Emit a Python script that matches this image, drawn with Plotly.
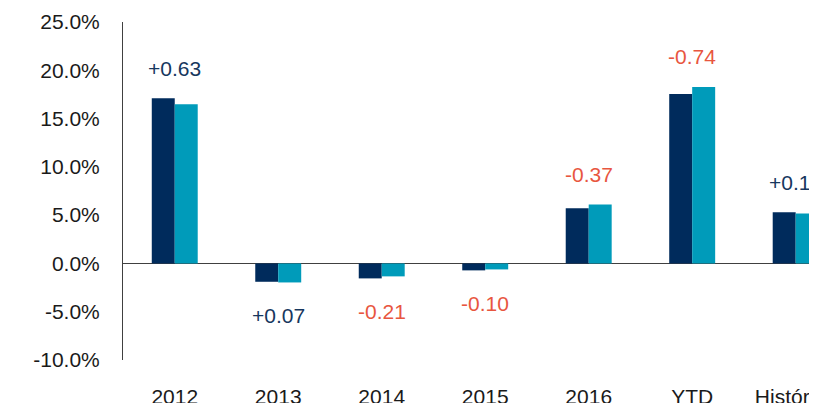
import plotly.graph_objects as go

# categories and values (percent)
categories = ["2012", "2013", "2014", "2015", "2016", "YTD", "Histórico"]
fund = [17.11, -1.90, -1.55, -0.72, 5.72, 17.54, 5.31]
benchmark = [16.48, -1.97, -1.34, -0.62, 6.09, 18.28, 5.18]
diff_labels = ["+0.63", "+0.07", "-0.21", "-0.10", "-0.37", "-0.74", "+0.13"]
y_ticks = [-10, -5, 0, 5, 10, 15, 20, 25]
y_tick_text = ["-10.0%", "-5.0%", "0.0%", "5.0%", "10.0%", "15.0%", "20.0%", "25.0%"]

navy = "#002B5C"
teal = "#009BBA"
red = "#E8563F"
label_navy = "#17375E"
font = "Liberation Sans, Arial, sans-serif"

fig = go.Figure()
fig.add_trace(go.Bar(x=categories, y=fund, marker_color=navy, marker_line_width=0, name="Fundo"))
fig.add_trace(go.Bar(x=categories, y=benchmark, marker_color=teal, marker_line_width=0, name="Benchmark"))

# difference labels above / below each group
for i, (a, b, lab) in enumerate(zip(fund, benchmark, diff_labels)):
    if a > 0:
        y, shift = max(a, b), 30
    else:
        y, shift = min(a, b), -33
    fig.add_annotation(x=i, y=y, yshift=shift, text=lab, showarrow=False,
                       font=dict(size=21, color=label_navy if lab.startswith("+") else red, family=font))

# page body has an 8px margin: figure shrunk so it fits the window
fig.update_layout(
    width=809, height=395,
    margin=dict(l=115, r=0, t=14, b=43, autoexpand=False),
    paper_bgcolor="white", plot_bgcolor="white",
    barmode="group", bargap=0.556, bargroupgap=0,
    showlegend=False,
    font=dict(family=font, size=21, color="#1a1a1a"),
)
fig.update_xaxes(type="category", range=[-0.5, 6.206], showgrid=False, showline=False, ticks="",
                 ticklabelstandoff=22, tickfont=dict(size=21))
fig.update_yaxes(range=[-10, 25], tickvals=y_ticks, ticktext=y_tick_text,
                 showgrid=False, showline=True, linecolor="#404040", linewidth=1,
                 zeroline=True, zerolinecolor="#404040", zerolinewidth=1,
                 ticks="", ticklabelstandoff=18, tickfont=dict(size=21))

fig.write_html("out.html")
